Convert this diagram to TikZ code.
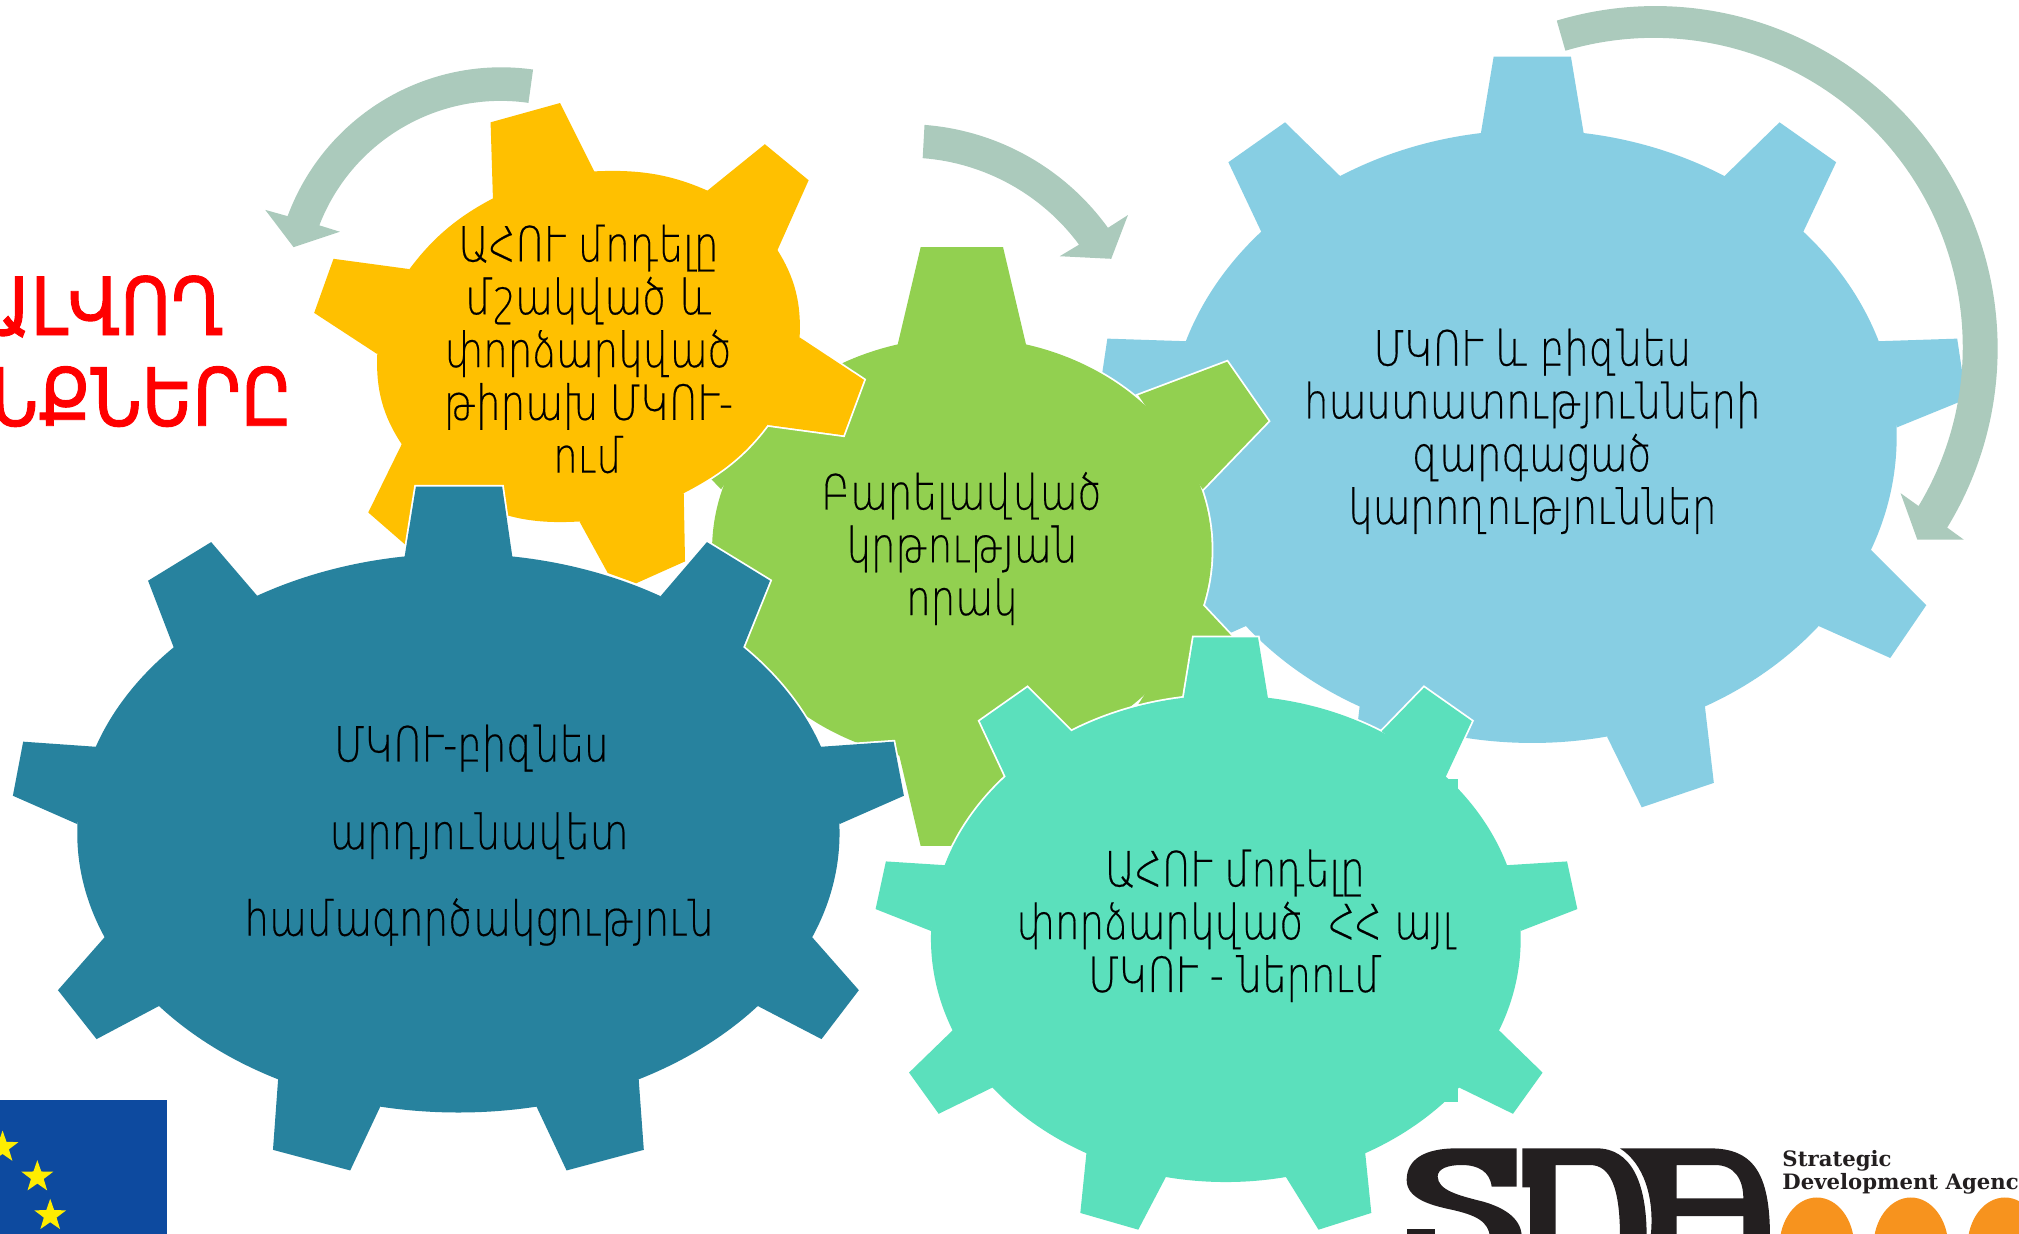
\documentclass[tikz,border=0pt]{standalone}
\usepackage{fontspec}
\usetikzlibrary{shapes.geometric}
\setmainfont{DejaVu Sans ExtraLight}[FakeStretch=0.8,FakeBold=0.35]
\newfontfamily\redfont{DejaVu Sans}[FakeStretch=0.87,FakeBold=1.2]
\newfontfamily\logofont{DejaVu Serif}
\definecolor{gearblue}{HTML}{87CEE3}
\definecolor{gearyellow}{HTML}{FFC000}
\definecolor{geargreen}{HTML}{92D050}
\definecolor{gearteal}{HTML}{27829E}
\definecolor{gearmint}{HTML}{5BE0BC}
\definecolor{arrowsage}{HTML}{ABCABC}
\definecolor{euflag}{HTML}{0D4A9F}
\definecolor{eustar}{HTML}{FFED00}
\definecolor{sdaorange}{HTML}{F7931E}
\definecolor{sdablack}{HTML}{231F20}
\newcommand\gear[3]{%
  \path[draw=white,line width=1.8pt] #2;
  \foreach \p in {#3}{\path[draw=white,line width=1.8pt] \p;}
  \path[fill=#1] #2;
  \foreach \p in {#3}{\path[fill=#1] \p;}
}
\tikzset{geartext/.style={align=center,font=\fontsize{24.2}{26.4}\selectfont,text=black,inner sep=0pt},
 cycarrow/.style={fill=arrowsage},
 redtext/.style={anchor=east,inner sep=0pt,text=red,font=\redfont\fontsize{40}{48}\selectfont},
 logotext/.style={anchor=base west,inner sep=0pt,font=\logofont\bfseries\fontsize{10.6}{12}\selectfont,text=sdablack}}
\begin{document}
\begin{tikzpicture}[x=0.6438pt,y=-0.6438pt]
\path[use as bounding box,clip] (0,0) rectangle (1568,957.7);
% light blue gear
\gear{gearblue}{(1190,339) ellipse [x radius=283,y radius=238]}{
 {(1149,110)--(1160,44)--(1220,44)--(1231,110)--cycle},
 {(1339,137)--(1382,95)--(1426,126)--(1400,181)--cycle},
 {(1459,265)--(1520,263)--(1527,310)--(1473,332)--cycle},
 {(1453,427)--(1496,470)--(1468,511)--(1412,486)--cycle},
 {(1324,548)--(1331,608)--(1275,627)--(1248,572)--cycle},
 {(921,265)--(860,263)--(853,310)--(907,332)--cycle},
 {(927,427)--(884,470)--(912,511)--(968,486)--cycle},
 {(1056,548)--(1049,608)--(1105,627)--(1132,572)--cycle},
 {(1041,137)--(998,95)--(954,126)--(980,181)--cycle}}
% green gear
\gear{geargreen}{(747,427) ellipse [x radius=194,y radius=165]}{
 {(696.6,270)--(715,192)--(779,192)--(797.4,270)--cycle},
 {(884,307)--(953,281)--(985,327)--(934,380)--cycle},
 {(934,470)--(965,503)--(950,560)--(884,547)--cycle},
 {(698,585)--(715,657)--(779,657)--(796,585)--cycle},
 {(610,307)--(541,281)--(509,327)--(560,380)--cycle},
 {(610,547)--(541,573)--(509,527)--(560,470)--cycle}}
% yellow gear
\gear{gearyellow}{plot[smooth cycle,tension=0.7] coordinates {(318,209)(383,154)(464,133)(547,147)(603,193)(621,262)(596,330)(531,383)(450,405)(371,392)(312,345)(293,275)}}{
 {(383,160)--(381,95)--(435,80)--(464,138)--cycle},
 {(547,150)--(594,112)--(628,140)--(603,196)--cycle},
 {(621,262)--(671,295)--(655,338)--(596,330)--cycle},
 {(531,383)--(532,436)--(494,453)--(472,445)--(450,405)--cycle},
 {(312,345)--(286,398)--(340,445)--(380,400)--cycle},
 {(293,275)--(244,243)--(259,201)--(318,209)--cycle}}
% teal gear
\gear{gearteal}{(356,647) ellipse [x radius=296,y radius=217]}{
 {(313,440)--(323,378)--(390,378)--(399,440)--cycle},
 {(513,463)--(549,421)--(598,451)--(577,503)--cycle},
 {(637,580)--(694,576)--(702,618)--(652,640)--cycle},
 {(630,727)--(667,769)--(638,807)--(588,781)--cycle},
 {(496,838)--(500,893)--(440,909)--(416,858)--cycle},
 {(296,858)--(272,909)--(212,893)--(216,838)--cycle},
 {(124,781)--(75,807)--(45,769)--(82,727)--cycle},
 {(60,640)--(10,618)--(18,576)--(75,580)--cycle},
 {(135,503)--(115,451)--(164,421)--(200,463)--cycle}}
% mint gear
\gear{gearmint}{(952,729) ellipse [x radius=229,y radius=189]}{
 {(918,550)--(927,495)--(977,495)--(986,550)--cycle},
 {(1073,568)--(1106,534)--(1143,560)--(1122,605)--cycle},
 {(1169,672)--(1217,669)--(1225,706)--(1181,723)--cycle},
 {(1164,800)--(1198,833)--(1175,865)--(1132,844)--cycle},
 {(1060,893)--(1065,942)--(1024,955)--(998,913)--cycle},
 {(906,913)--(884,955)--(839,942)--(844,893)--cycle},
 {(772,844)--(729,865)--(706,833)--(740,800)--cycle},
 {(723,723)--(680,706)--(688,669)--(735,672)--cycle},
 {(782,605)--(761,560)--(798,534)--(832,568)--cycle},
 {(1110,605)--(1132,605)--(1132,630)--(1110,630)--cycle},
 {(1110,830)--(1132,830)--(1132,856)--(1110,856)--cycle}}
% arrows
\fill[cycarrow] (414,54) arc[start angle=-82,end angle=-159.7,radius=177]
  -- (206,163) -- (228,192) -- (264,180) -- (248,175)
  arc[start angle=-158.9,end angle=-81.8,radius=151] -- cycle;
\fill[cycarrow] (718,97) arc[start angle=-85.6,end angle=-35.8,radius=194]
  -- (876,167) -- (863,201) -- (823,199) -- (838,190)
  arc[start angle=-36.5,end angle=-85.6,radius=167] -- cycle;
\fill[cycarrow] (1209,16) arc[start angle=-106.7,end angle=31.5,radius=266]
  -- (1525,419) -- (1489,419) -- (1476,383) -- (1490,393)
  arc[start angle=31,end angle=-106.6,radius=240] -- cycle;
% texts
\node[geartext] (tyellow) at (457,271) {ԱՀՈՒ մոդելը\\մշակված և\\փորձարկված\\թիրախ ՄԿՈՒ-\\ում};
\node[geartext] (tgreen) at (747,426) {Բարելավված\\կրթության\\որակ};
\node[geartext] (tblue) at (1190,335) {ՄԿՈՒ և բիզնես\\հաստատությունների\\զարգացած\\կարողություններ};
\node[geartext] (tteal1) at (366,581) {ՄԿՈՒ-բիզնես};
\node[geartext] (tteal2) at (372,649) {արդյունավետ};
\node[geartext] (tteal3) at (372,716) {համագործակցություն};
\node[geartext] (tmint) at (959,719) {ԱՀՈՒ մոդելը\\փորձարկված~~ՀՀ այլ\\ՄԿՈՒ - ներում};
\node[redtext] (redone) at (174,238) {ԱԼՎՈՂ};
\node[redtext] (redtwo) at (227,308) {ՆՔՆԵՐԸ};
% EU flag
\fill[euflag] (0,854) rectangle (130,958);
\foreach \sx/\sy in {2/891,29/914,39/944}
  \path[fill=eustar] plot[samples at={0,...,9},variable=\k] ({\sx+(mod(\k,2)==0?13:5.2)*sin(36*\k)},{\sy-(mod(\k,2)==0?13:5.2)*cos(36*\k)}) -- cycle;
% SDA logo, drawn in crop units
\begin{scope}[shift={(1079.5,877.6)},x=0.16666pt,y=-0.16666pt,fill=sdablack]
 % S
 \fill (380,55) -- (200,55) .. controls (100,55) and (50,90) .. (50,150)
   .. controls (50,205) and (120,225) .. (180,238) .. controls (260,255) and (295,275) .. (300,320)
   -- (395,320) .. controls (395,270) and (350,235) .. (280,215)
   .. controls (200,195) and (145,180) .. (143,140) .. controls (143,115) and (175,105) .. (215,105)
   .. controls (265,105) and (300,125) .. (305,170) -- (380,170) -- cycle;
 \fill (50,297) rectangle (135,320);
 % D
 \fill (397,55) -- (620,55) .. controls (720,55) and (770,150) .. (770,320) -- (690,320)
   .. controls (690,170) and (660,105) .. (600,105) -- (497,105) -- (497,320) -- (420,320) -- (420,172) -- (397,172) -- cycle;
 % A
 \fill[even odd rule] (690,55) -- (960,55) .. controls (1090,55) and (1140,130) .. (1140,320) -- (1060,320) -- (1060,258) -- (860,258) -- (860,320) -- (782,320)
   .. controls (795,200) and (760,100) .. (690,55) -- cycle
   (860,105) -- (975,105) .. controls (1035,105) and (1060,150) .. (1060,205) -- (860,205) -- cycle;
\end{scope}
\node[logotext] (sdaone) at (1384,905.6) {Strategic};
\node[logotext] (sdatwo) at (1384,924) {Development Agenc};
\foreach \ox in {1411,1484,1557}
  \fill[sdaorange] (\ox,968) ellipse [x radius=29,y radius=38];
\end{tikzpicture}
\end{document}
